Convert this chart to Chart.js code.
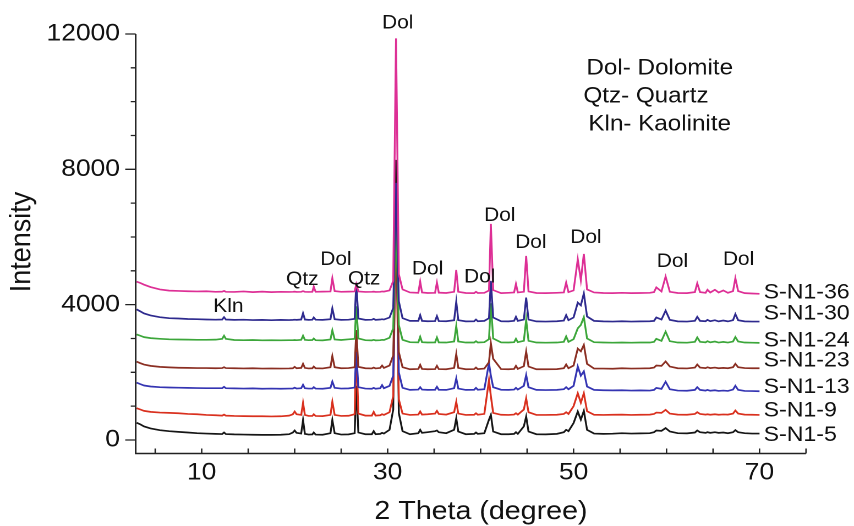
<!DOCTYPE html>
<html>
<head>
<meta charset="utf-8">
<script src="https://cdn.jsdelivr.net/npm/chart.js@4.4.1/dist/chart.umd.min.js"></script>
<style>
  html, body { margin: 0; padding: 0; background: #fff; overflow: hidden; }
  /* the figure is a little wider than tall-looking; draw narrow and stretch */
  #wrap { width: 776px; height: 526px; transform: scaleX(1.1005); transform-origin: 0 0; }
</style>
</head>
<body>
<div id="wrap"><canvas id="xrd"></canvas></div>
<script>
// --- data: 2θ positions shared by every pattern ---
const twoTheta = [
  3, 3.4, 3.8, 4.5, 5.5, 6.5, 7.5, 8.5, 9.5, 10.5, 11.5, 12.2, 12.4, 12.6, 13.5, 14.5, 15.5, 16.5, 17.5, 18.5, 19.4,
  19.8, 20.0, 20.2, 20.7, 20.9, 21.1, 21.5, 21.9, 22.05, 22.25, 23.0, 23.85, 24.05, 24.3, 25.0, 25.8, 26.45, 26.63, 26.85, 27.6, 28.3, 28.5, 28.7, 29.2, 29.4, 29.6,
  30.2, 30.6, 30.9, 31.2, 31.6, 32.4, 33.3, 33.5, 33.7, 34.3, 35.1, 35.3, 35.5, 36.3, 37.15, 37.38, 37.6, 38.4, 39.3, 39.5, 39.7,
  40.4, 40.9, 41.1, 41.35, 42.2, 43.0, 43.6, 43.8, 44.0, 44.65, 44.9, 45.15, 46.0, 47.0, 48.2, 48.95, 49.2, 49.45, 50.0, 50.45, 50.78, 51.1, 51.45, 52.2,
  53.2, 54.2, 55.2, 56.2, 57.2, 58.2, 58.65, 58.9, 59.45, 59.9, 60.35, 61.2, 62.2, 63.05, 63.3, 63.6, 64.2, 64.4, 64.7, 65.2, 65.6, 66.1, 66.6, 67.15, 67.4, 67.7, 68.4, 69.2, 70.0
];

// intensities (already offset for stacking)
const sN1_36 = [
  4680, 4640, 4590, 4520, 4450, 4415, 4405, 4395, 4390, 4395, 4380, 4385, 4405, 4380, 4375, 4390, 4370, 4385, 4370, 4380, 4375,
  4380, 4385, 4375, 4380, 4400, 4380, 4375, 4380, 4530, 4380, 4385, 4390, 4780, 4400, 4380, 4385, 4390, 4600, 4390, 4375, 4380, 4385, 4375, 4380, 4390, 4385,
  4420, 4700, 11870, 4900, 4450, 4360, 4350, 4680, 4360, 4345, 4350, 4650, 4355, 4345, 4380, 5025, 4380, 4345, 4340, 4380, 4345,
  4350, 4420, 6385, 4430, 4340, 4350, 4360, 4610, 4360, 4380, 5440, 4390, 4345, 4340, 4350, 4360, 4650, 4370, 4420, 5340, 4720, 5500, 4450, 4360,
  4345, 4340, 4350, 4340, 4345, 4350, 4370, 4510, 4390, 4830, 4380, 4345, 4340, 4370, 4630, 4370, 4350, 4440, 4360, 4440, 4360, 4420, 4350, 4400, 4780, 4400, 4340, 4330, 4320
];
const sN1_30 = [
  3860, 3800, 3740, 3680, 3630, 3600, 3590, 3575, 3570, 3560, 3555, 3560, 3630, 3560, 3550, 3555, 3545, 3550, 3540, 3550, 3545,
  3550, 3555, 3550, 3560, 3745, 3560, 3550, 3555, 3620, 3555, 3550, 3570, 3890, 3570, 3550, 3555, 3580, 4650, 3590, 3550, 3555, 3580, 3550, 3560, 3570, 3560,
  3620, 3900, 7600, 4100, 3600, 3520, 3520, 3690, 3520, 3510, 3515, 3660, 3515, 3510, 3540, 4090, 3540, 3505, 3510, 3560, 3510,
  3520, 3600, 4700, 3620, 3510, 3505, 3520, 3640, 3520, 3560, 4210, 3560, 3505, 3500, 3510, 3530, 3690, 3540, 3620, 4060, 3980, 4330, 3650, 3520,
  3505, 3500, 3510, 3500, 3505, 3510, 3520, 3620, 3560, 3820, 3550, 3505, 3500, 3520, 3640, 3520, 3510, 3550, 3510, 3540, 3505, 3530, 3505, 3540, 3720, 3540, 3505, 3500, 3500
];
const sN1_24 = [
  3120, 3080, 3040, 3010, 2990, 2975, 2970, 2965, 2960, 2960, 2965, 2990, 3080, 2990, 2955, 2950, 2955, 2945, 2950, 2945, 2950,
  2950, 2955, 2950, 2960, 3080, 2960, 2950, 2955, 3000, 2950, 2945, 2970, 3240, 2970, 2955, 2975, 2990, 3950, 3000, 2950, 2945, 2960, 2945, 2950, 2960, 2955,
  3020, 3300, 6600, 3400, 2960, 2890, 2885, 3050, 2890, 2880, 2885, 3030, 2885, 2880, 2910, 3370, 2910, 2880, 2880, 2920, 2880,
  2890, 2980, 4040, 3000, 2885, 2880, 2890, 2990, 2890, 2930, 3550, 2930, 2880, 2875, 2880, 2900, 3060, 2900, 2980, 3300, 3400, 3630, 3000, 2890,
  2880, 2875, 2880, 2875, 2880, 2880, 2900, 2990, 2930, 3200, 2920, 2880, 2875, 2900, 3030, 2900, 2885, 2920, 2885, 2910, 2880, 2900, 2880, 2910, 3040, 2910, 2880, 2875, 2870
];
const sN1_23 = [
  2315, 2270, 2230, 2190, 2160, 2145, 2135, 2130, 2125, 2125, 2120, 2125, 2150, 2125, 2120, 2115, 2120, 2110, 2115, 2110, 2115,
  2120, 2160, 2120, 2130, 2250, 2130, 2115, 2120, 2170, 2120, 2115, 2150, 2480, 2150, 2120, 2125, 2150, 3250, 2160, 2120, 2115, 2140, 2115, 2130, 2200, 2130,
  2200, 2500, 6200, 2600, 2150, 2090, 2100, 2220, 2100, 2090, 2095, 2190, 2095, 2090, 2130, 2540, 2130, 2090, 2095, 2140, 2095,
  2110, 2300, 2860, 2400, 2095, 2090, 2100, 2190, 2100, 2180, 2610, 2170, 2090, 2090, 2095, 2120, 2230, 2120, 2200, 2700, 2620, 2810, 2250, 2110,
  2110, 2105, 2120, 2110, 2115, 2120, 2140, 2200, 2190, 2320, 2170, 2120, 2115, 2140, 2230, 2140, 2125, 2150, 2125, 2140, 2120, 2130, 2120, 2150, 2250, 2150, 2125, 2120, 2120
];
const sN1_13 = [
  1695, 1650, 1610, 1580, 1560, 1550, 1545, 1540, 1535, 1530, 1530, 1530, 1570, 1530, 1525, 1520, 1525, 1515, 1520, 1515, 1520,
  1520, 1545, 1520, 1530, 1630, 1530, 1520, 1520, 1560, 1520, 1515, 1540, 1725, 1540, 1520, 1525, 1550, 2600, 1560, 1520, 1515, 1540, 1515, 1530, 1620, 1530,
  1600, 1900, 6900, 2000, 1540, 1480, 1490, 1560, 1490, 1480, 1485, 1570, 1485, 1480, 1530, 1820, 1520, 1480, 1485, 1540, 1485,
  1500, 2270, 1900, 1560, 1485, 1480, 1490, 1540, 1490, 1600, 1920, 1560, 1480, 1475, 1480, 1500, 1560, 1500, 1600, 2170, 1900, 2030, 1580, 1480,
  1470, 1465, 1470, 1460, 1465, 1460, 1480, 1540, 1510, 1720, 1500, 1460, 1455, 1480, 1560, 1480, 1460, 1480, 1455, 1470, 1450, 1460, 1450, 1490, 1600, 1480, 1450, 1445, 1440
];
const sN1_9 = [
  940, 900, 860, 830, 810, 800, 790, 770, 760, 740, 730, 720, 750, 720, 710, 705, 700, 700, 695, 700, 720,
  760, 840, 760, 740, 1100, 740, 710, 710, 760, 710, 705, 740, 1130, 740, 710, 715, 760, 2700, 780, 720, 720, 830, 720, 730, 760, 740,
  820, 1300, 6500, 1200, 780, 740, 750, 840, 750, 760, 780, 860, 770, 750, 820, 1130, 780, 740, 745, 790, 745,
  770, 1770, 1300, 800, 745, 740, 750, 790, 750, 900, 1230, 820, 740, 740, 745, 770, 820, 770, 1000, 1380, 1100, 1380, 850, 745,
  740, 745, 750, 740, 745, 750, 770, 810, 800, 890, 780, 750, 745, 770, 820, 770, 750, 760, 745, 760, 745, 755, 750, 780, 870, 780, 750, 745, 740
];
const sN1_5 = [
  510, 460, 400, 340, 290, 260, 240, 220, 200, 190, 180, 175, 220, 175, 165, 160, 155, 150, 150, 155, 170,
  220, 280, 210, 190, 590, 180, 160, 165, 220, 160, 155, 200, 590, 200, 160, 165, 200, 1600, 220, 170, 170, 260, 170, 180, 210, 190,
  300, 900, 8280, 800, 260, 170, 200, 300, 210, 230, 260, 280, 230, 200, 300, 640, 250, 170, 180, 220, 180,
  200, 600, 740, 250, 170, 170, 180, 230, 180, 400, 690, 250, 170, 165, 180, 230, 300, 260, 500, 840, 600, 860, 300, 190,
  180, 185, 200, 190, 195, 200, 230, 280, 270, 350, 250, 200, 195, 220, 280, 230, 210, 230, 210, 230, 210, 220, 200, 230, 290, 230, 200, 190, 190
];

const sampleNames  = ['S-N1-36', 'S-N1-30', 'S-N1-24', 'S-N1-23', 'S-N1-13', 'S-N1-9', 'S-N1-5'];
const sampleSeries = [sN1_36, sN1_30, sN1_24, sN1_23, sN1_13, sN1_9, sN1_5];
const sampleColors = ['#dd2f95', '#2e2a8e', '#3ca63a', '#8a2e22', '#3434b2', '#d9301e', '#161616'];
const sampleLabelY = [4360, 3725, 2935, 2344, 1558, 866, 148];

// phase marks written above the peaks
const phaseText = ['Dol', 'Qtz', 'Dol', 'Qtz', 'Kln', 'Dol', 'Dol', 'Dol', 'Dol', 'Dol', 'Dol', 'Dol'];
const phaseX    = [31.08, 20.82, 24.44, 27.47, 12.87, 34.3, 39.9, 42.06, 45.4, 51.32, 60.63, 67.74];
const phaseY    = [12311, 4740, 5321, 4750, 3931, 5040, 4803, 6621, 5823, 5971, 5262, 5321];

const keyLines = ['Dol- Dolomite', 'Qtz- Quartz', 'Kln- Kaolinite'];
const keyX     = [51.38, 51.06, 51.59];
const keyY     = [10975, 10148, 9326];

const xTickLabels = [10, 30, 50, 70];
const yTickLabels = [0, 4000, 8000, 12000];

const FONT = "'Liberation Sans', Arial, Helvetica, sans-serif";
const INK = '#111';

// axis lines, inward/outward tick marks and all free text
const xrdDecor = {
  id: 'xrdDecor',
  afterDraw(chart) {
    const { ctx, chartArea: a, scales: { x, y } } = chart;
    ctx.save();
    ctx.strokeStyle = '#222';
    ctx.lineWidth = 1.5;
    ctx.beginPath();
    ctx.moveTo(a.left, y.getPixelForValue(12000));
    ctx.lineTo(a.left, a.bottom);
    ctx.lineTo(a.right, a.bottom);
    ctx.stroke();

    ctx.lineWidth = 1.3;
    ctx.beginPath();
    x.ticks.forEach(t => {
      const px = x.getPixelForValue(t.value);
      ctx.moveTo(px, a.bottom);
      ctx.lineTo(px, a.bottom - 5);
    });
    y.ticks.forEach(t => {
      const py = y.getPixelForValue(t.value);
      const len = yTickLabels.includes(t.value) ? 9.5 : 4.5;
      ctx.moveTo(a.left, py);
      ctx.lineTo(a.left - len, py);
    });
    ctx.stroke();

    ctx.fillStyle = INK;
    ctx.textBaseline = 'middle';

    // peak labels
    ctx.font = `19px ${FONT}`;
    ctx.textAlign = 'center';
    phaseText.forEach((s, i) => {
      ctx.fillText(s, x.getPixelForValue(phaseX[i]), y.getPixelForValue(phaseY[i]));
    });

    // mineral key
    ctx.font = `22px ${FONT}`;
    ctx.textAlign = 'left';
    keyLines.forEach((s, i) => {
      ctx.fillText(s, x.getPixelForValue(keyX[i]), y.getPixelForValue(keyY[i]));
    });

    // sample names at the end of each pattern
    ctx.font = `21px ${FONT}`;
    sampleNames.forEach((s, i) => {
      ctx.fillText(s, x.getPixelForValue(70.44), y.getPixelForValue(sampleLabelY[i]));
    });

    // axis titles
    ctx.font = `26px ${FONT}`;
    ctx.textAlign = 'center';
    ctx.fillText('2 Theta (degree)', 437, 512);
    ctx.translate(20, 242);
    ctx.rotate(-Math.PI / 2);
    ctx.font = `27px ${FONT}`;
    ctx.fillText('Intensity', 0, 0);
    ctx.restore();
  }
};

new Chart(document.getElementById('xrd'), {
  type: 'line',
  data: {
    datasets: sampleNames.map((name, i) => ({
      label: name,
      data: twoTheta.map((t, k) => ({ x: t, y: sampleSeries[i][k] })),
      borderColor: sampleColors[i],
      borderWidth: 1.7,
      pointRadius: 0,
      tension: 0,
      fill: false
    }))
  },
  options: {
    responsive: true,
    maintainAspectRatio: false,
    animation: false,
    devicePixelRatio: 2,
    layout: { padding: { top: 34, right: 43.6, left: 0, bottom: 0 } },
    plugins: { legend: { display: false }, tooltip: { enabled: false } },
    scales: {
      x: {
        type: 'linear',
        min: 2.9,
        max: 75,
        afterBuildTicks: s => { s.ticks = []; for (let v = 5; v <= 75; v += 5) s.ticks.push({ value: v }); },
        afterFit: s => { s.height = 72.5; },
        grid: { display: false, drawTicks: false },
        border: { display: false },
        ticks: {
          autoSkip: false,
          maxRotation: 0,
          padding: 5,
          color: INK,
          font: { family: FONT, size: 24 },
          callback: v => xTickLabels.includes(v) ? String(v) : ''
        }
      },
      y: {
        min: -400,
        max: 12000,
        afterBuildTicks: s => { s.ticks = []; for (let v = 0; v <= 12000; v += 1000) s.ticks.push({ value: v }); },
        afterFit: s => { s.width = 123.3; },
        grid: { display: false, drawTicks: false },
        border: { display: false },
        ticks: {
          autoSkip: false,
          padding: 14.3,
          color: INK,
          font: { family: FONT, size: 24 },
          callback: v => yTickLabels.includes(v) ? String(v) : ''
        }
      }
    }
  },
  plugins: [xrdDecor]
});
</script>
</body>
</html>
